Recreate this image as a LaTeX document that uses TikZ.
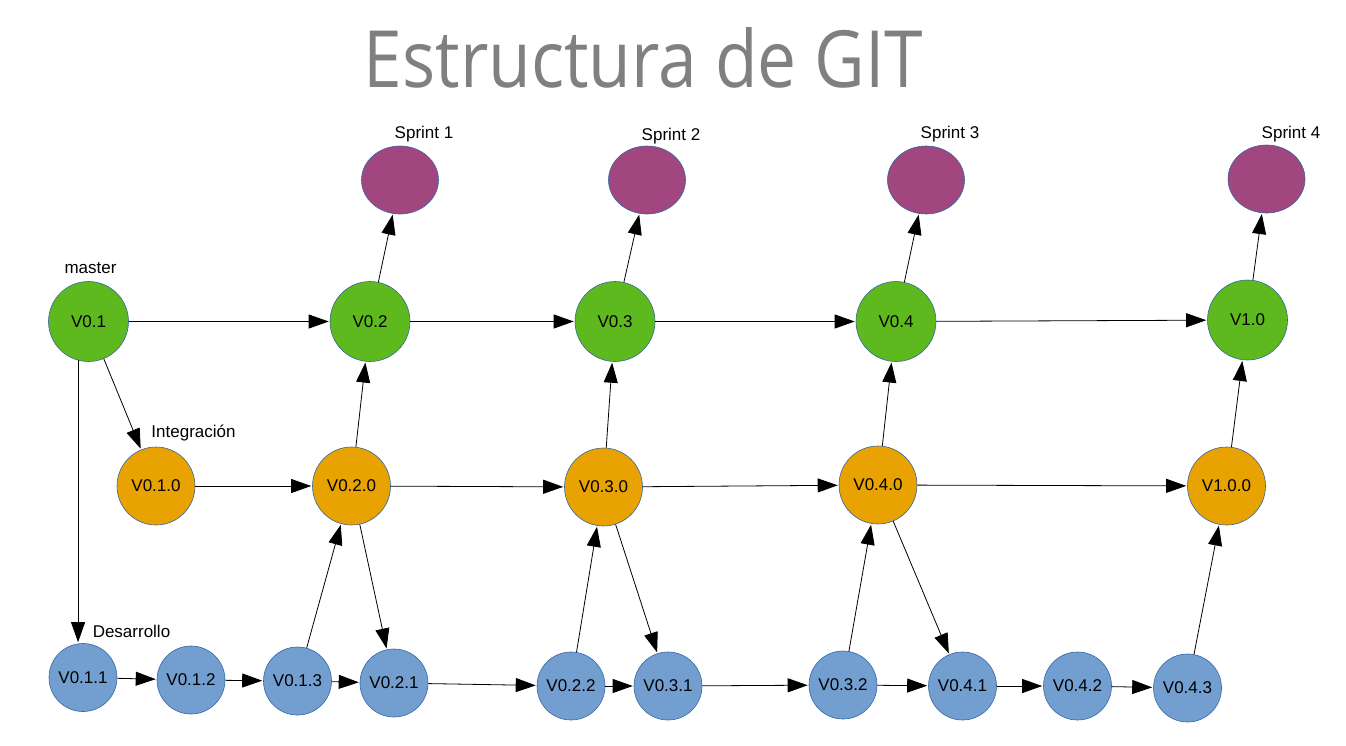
\documentclass[tikz,border=0pt]{standalone}
\usepackage{fontspec}
\setmainfont{Liberation Sans}
\newfontfamily\titlefont[FakeStretch=0.88]{Open Sans}
\usetikzlibrary{arrows.meta,shapes.geometric}

\definecolor{mastergreen}{HTML}{5EB91E}
\definecolor{integorange}{HTML}{E8A202}
\definecolor{devblue}{HTML}{729FCF}
\definecolor{sprintpurple}{HTML}{A1467E}
\definecolor{rimblue}{HTML}{3465A4}
\definecolor{titlegray}{HTML}{808080}

\begin{document}
\begin{tikzpicture}[x=1pt,y=-1pt,>={Triangle[length=20pt,width=14pt]},shorten >=1pt,
            line width=0.8pt,
            version/.style={circle,draw=rimblue,line width=0.6pt,inner sep=0pt,
              font=\fontsize{17}{20}\selectfont},
            master node/.style={version,fill=mastergreen,minimum size=80pt},
            integ node/.style={version,fill=integorange,minimum size=78pt},
            dev node/.style={version,fill=devblue,minimum size=68pt},
            sprint node/.style={ellipse,draw=rimblue,line width=0.6pt,fill=sprintpurple,
              minimum width=77pt,minimum height=68pt},
            tag/.style={anchor=base,inner sep=0pt,font=\fontsize{17}{20}\selectfont}]
            \useasboundingbox (0,0) rectangle (1346,745);
            \node[anchor=base,inner sep=0pt,text=titlegray,font=\titlefont\fontsize{79}{90}\selectfont]
              (title) at (643.5,87) {Estructura de GIT};
            % master
            \node[master node] (m1) at (88.5,321.5) {V0.1};
            \node[master node] (m2) at (370,321.5) {V0.2};
            \node[master node] (m3) at (615,321.5) {V0.3};
            \node[master node] (m4) at (896,321.5) {V0.4};
            \node[master node] (m5) at (1247.5,320) {V1.0};
            % sprints
            \node[sprint node] (s1) at (400,180) {};
            \node[sprint node] (s2) at (647,180) {};
            \node[sprint node] (s3) at (926,180) {};
            \node[sprint node] (s4) at (1266.5,179) {};
            % integracion
            \node[integ node] (i1) at (156,486) {V0.1.0};
            \node[integ node] (i2) at (351.5,486) {V0.2.0};
            \node[integ node] (i3) at (603.5,487) {V0.3.0};
            \node[integ node] (i4) at (878,485) {V0.4.0};
            \node[integ node] (i5) at (1226.5,486) {V1.0.0};
            % desarrollo
            \node[dev node] (d1) at (83,677.5) {V0.1.1};
            \node[dev node] (d2) at (191,680) {V0.1.2};
            \node[dev node] (d3) at (297.5,681) {V0.1.3};
            \node[dev node] (d4) at (394,683) {V0.2.1};
            \node[dev node] (d5) at (571,686) {V0.2.2};
            \node[dev node] (d6) at (668,686) {V0.3.1};
            \node[dev node] (d7) at (843,685) {V0.3.2};
            \node[dev node] (d8) at (962.5,686) {V0.4.1};
            \node[dev node] (d9) at (1077.5,686) {V0.4.2};
            \node[dev node] (d10) at (1187.5,688) {V0.4.3};
            % labels
            \node[tag] (lmaster) at (90.5,273) {master};
            \node[tag] (linteg) at (193.5,437) {Integración};
            \node[tag] (ldev) at (131.5,637) {Desarrollo};
            \node[tag] (ls1) at (424,138) {Sprint 1};
            \node[tag] (ls2) at (671,140) {Sprint 2};
            \node[tag] (ls3) at (950,138) {Sprint 3};
            \node[tag] (ls4) at (1291,138) {Sprint 4};
            \path[->]
            (m1) edge (m2)
            (m2) edge (m3)
            (m3) edge (m4)
            (m4) edge (m5)
            (i1) edge (i2)
            (i2) edge (i3)
            (i3) edge (i4)
            (i4) edge (i5)
            (d1) edge (d2)
            (d2) edge (d3)
            (d3) edge (d4)
            (d4) edge (d5)
            (d5) edge (d6)
            (d6) edge (d7)
            (d7) edge (d8)
            (d8) edge (d9)
            (d9) edge (d10)
            (m1) edge (i1)
            (m1.255) edge (m1.255 |- d1.north)
            (m2) edge (s1)
            (m3) edge (s2)
            (m4) edge (s3)
            (m5) edge (s4)
            (i2) edge (m2)
            (i3) edge (m3)
            (i4) edge (m4)
            (i5) edge (m5)
            (d3) edge (i2)
            (i2) edge (d4)
            (d5) edge (i3)
            (i3) edge (d6)
            (d7) edge (i4)
            (i4) edge (d8)
            (d10) edge (i5)
            ;
\end{tikzpicture}
\end{document}
